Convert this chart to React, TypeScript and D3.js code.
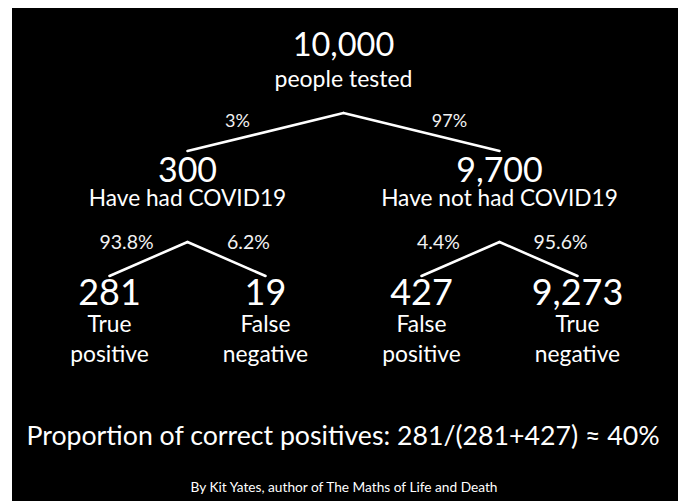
import React, { useEffect, useRef } from 'react';
import * as d3 from 'd3';

// tree values
const nodeIds = ['all', 'had', 'notHad', 'tp', 'fn', 'fp', 'tn'];
const nodeParents = ['', 'all', 'all', 'had', 'had', 'notHad', 'notHad'];
const nodeCounts = ['10,000', '300', '9,700', '281', '19', '427', '9,273'];
const nodeLabels = [
  ['people tested'],
  ['Have had COVID19'],
  ['Have not had COVID19'],
  ['True', 'positive'],
  ['False', 'negative'],
  ['False', 'positive'],
  ['True', 'negative'],
];
const branchPercents = ['', '3%', '97%', '93.8%', '6.2%', '4.4%', '95.6%'];

const summaryText = 'Proportion of correct positives: 281/(281+427) \u2248 40%';
const creditText = 'By Kit Yates, author of The Maths of Life and Death';

const W = 685;
const H = 501;
const FONT = 'Lato, "Open Sans", sans-serif';

const App: React.FC = () => {
  const svgRef = useRef<SVGSVGElement>(null);

  useEffect(() => {
    if (!svgRef.current) return;
    const svg = d3.select(svgRef.current);
    svg.selectAll('*').remove();

    svg.append('rect')
      .attr('x', 12).attr('y', 8)
      .attr('width', 666).attr('height', H - 8)
      .attr('fill', '#000');

    const rows = nodeIds.map((id, i) => ({
      id,
      parent: nodeParents[i] || null,
      count: nodeCounts[i],
      label: nodeLabels[i],
      pct: branchPercents[i],
    }));

    const root = d3.stratify<any>()
      .id(d => d.id)
      .parentId(d => d.parent)(rows);

    // leaves evenly spaced, parents centered over children
    d3.tree<any>().nodeSize([156, 1]).separation(() => 1)(root);

    const cx = 343.5;
    const px = (n: any) => cx + n.x;

    // per-depth vertical layout
    const numberY = [56, 182, 305];
    const labelY = [87, 206, 332];
    const apexY = [113, 242];
    const endY = [0, 151, 276];
    const pctY = [0, 127, 249];
    const pctOffset = [0, 28, 22];
    const pctSize = [0, 18, 19.5];
    const numberSize = [32.5, 34, 36];
    const labelSize = [23, 22.7, 22.8];

    const g = svg.append('g');

    // branches
    g.selectAll('line.branch')
      .data(root.links())
      .enter().append('line')
      .attr('class', 'branch')
      .attr('x1', d => px(d.source))
      .attr('y1', d => apexY[d.source.depth])
      .attr('x2', d => px(d.target))
      .attr('y2', d => endY[d.target.depth])
      .attr('stroke', '#fff')
      .attr('stroke-width', 2.6)
      .attr('stroke-linecap', 'round');

    // branch percentages
    g.selectAll('text.pct')
      .data(root.links())
      .enter().append('text')
      .attr('class', 'pct')
      .attr('x', d => {
        const mid = (px(d.source) + px(d.target)) / 2;
        const dir = px(d.target) < px(d.source) ? -1 : 1;
        return mid + dir * pctOffset[d.target.depth];
      })
      .attr('y', d => pctY[d.target.depth])
      .attr('text-anchor', 'middle')
      .attr('fill', '#f2f2f2')
      .style('font-family', FONT)
      .style('font-size', d => `${pctSize[d.target.depth]}px`)
      .text(d => d.target.data.pct);

    const nodes = g.selectAll('g.node')
      .data(root.descendants())
      .enter().append('g')
      .attr('class', 'node');

    nodes.append('text')
      .attr('x', d => px(d))
      .attr('y', d => numberY[d.depth])
      .attr('text-anchor', 'middle')
      .attr('fill', '#fff')
      .style('font-family', FONT)
      .style('font-size', d => `${numberSize[d.depth]}px`)
      .text(d => d.data.count);

    nodes.each(function (d: any) {
      const sel = d3.select(this);
      d.data.label.forEach((line: string, i: number) => {
        sel.append('text')
          .attr('x', px(d))
          .attr('y', labelY[d.depth] + i * 30)
          .attr('text-anchor', 'middle')
          .attr('fill', '#fff')
          .style('font-family', FONT)
          .style('font-size', `${labelSize[d.depth]}px`)
          .text(line);
      });
    });

    svg.append('text')
      .attr('x', 343).attr('y', 445)
      .attr('text-anchor', 'middle')
      .attr('fill', '#fff')
      .style('font-family', FONT)
      .style('font-size', '26.7px')
      .text(summaryText);

    svg.append('text')
      .attr('x', 344).attr('y', 492)
      .attr('text-anchor', 'middle')
      .attr('fill', '#fff')
      .style('font-family', FONT)
      .style('font-size', '13.7px')
      .text(creditText);
  }, []);

  return (
    <svg ref={svgRef} width={W} height={H}
      style={{ position: 'absolute', left: 0, top: 0, background: '#fff' }} />
  );
};

export default App;
